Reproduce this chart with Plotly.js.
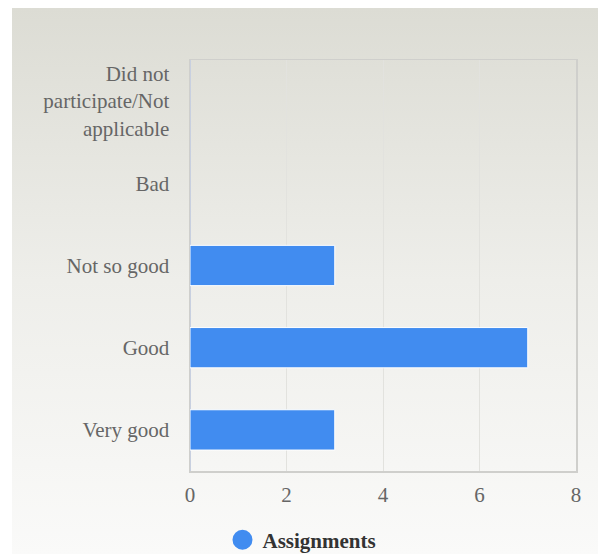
<!DOCTYPE html>
<html>
<head>
<meta charset="utf-8">
<script src="https://cdn.plot.ly/plotly-3.0.1.min.js"></script>
<style>
  html, body { margin: 0; padding: 0; background: #ffffff; }
  #bg { position: absolute; left: 12px; top: 8px; width: 586px; height: 546px;
        background: linear-gradient(to bottom, #dcdcd4 0%, #eeeeea 50%, #fafaf9 100%); }
  #chart { position: absolute; left: 0; top: 0; width: 598px; height: 554px; }
</style>
</head>
<body>
<div id="bg"></div>
<div id="chart"></div>
<script>
const categories = ["Very good", "Good", "Not so good", "Bad", "Did not<br>participate/Not<br>applicable"];
const values = [3, 7, 3, 0, 0];
const seriesName = "Assignments";
const xTicks = [0, 2, 4, 6, 8];

const barColor = "#418cf0";
const serif = "Liberation Serif";

const traces = [
  {
    type: "bar",
    orientation: "h",
    y: categories,
    x: values,
    name: seriesName,
    showlegend: false,
    marker: { color: barColor, line: { color: "#ffffff", width: values.map(v => v > 0 ? 1 : 0) } },
    hoverinfo: "x+y"
  },
  {
    type: "scatter",
    mode: "markers",
    x: [null],
    y: [null],
    name: "<b>" + seriesName + "</b>",
    marker: { color: barColor, size: 16, symbol: "circle", line: { color: barColor, width: 4 } },
    showlegend: true
  }
];

const layout = {
  width: 598,
  height: 554,
  margin: { l: 190, r: 22, t: 60, b: 83 },
  paper_bgcolor: "rgba(0,0,0,0)",
  plot_bgcolor: "rgba(0,0,0,0)",
  font: { family: serif, size: 21, color: "#666666" },
  bargap: 0.51,
  xaxis: {
    range: [0, 8],
    tickvals: xTicks,
    ticktext: xTicks.map(String),
    showgrid: true,
    gridcolor: "#e2e2de",
    gridwidth: 1,
    zeroline: true,
    zerolinecolor: "#c8d0e0",
    zerolinewidth: 2,
    showline: true,
    mirror: true,
    linecolor: "#cfcfcc",
    linewidth: 1.5,
    ticks: "",
    ticklabelstandoff: 4,
    tickfont: { family: serif, size: 21, color: "#666666" },
    fixedrange: true
  },
  yaxis: {
    type: "category",
    categoryorder: "array",
    categoryarray: categories,
    showgrid: false,
    showline: true,
    mirror: true,
    linecolor: "#cfcfcc",
    linewidth: 1.5,
    ticks: "",
    ticklabelstandoff: 15,
    tickfont: { family: serif, size: 21, color: "#666666" },
    fixedrange: true
  },
  legend: {
    orientation: "h",
    xref: "container",
    yref: "container",
    x: 0.505,
    xanchor: "center",
    y: 0.025,
    yanchor: "middle",
    font: { size: 21, color: "#333333", family: serif },
    bgcolor: "rgba(0,0,0,0)",
    itemsizing: "trace"
  },
  showlegend: true
};

Plotly.newPlot("chart", traces, layout, { displayModeBar: false, staticPlot: true });
</script>
</body>
</html>
